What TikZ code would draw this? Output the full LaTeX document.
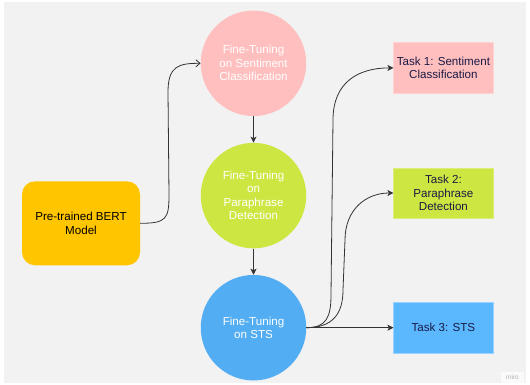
\documentclass[tikz,border=0pt]{standalone}
\usepackage{fontspec}
\setmainfont{Liberation Sans}
\usetikzlibrary{arrows.meta,calc}
\definecolor{bg}{HTML}{F2F2F2}
\definecolor{cpink}{HTML}{FFBFBF}
\definecolor{cgreen}{HTML}{CEE641}
\definecolor{cblue}{HTML}{52ADF2}
\definecolor{tblue}{HTML}{5BB8FF}
\definecolor{cyellow}{HTML}{FFC600}
\definecolor{navy}{HTML}{1A1A44}
\definecolor{line}{HTML}{333333}
\tikzset{
  circ/.style={circle, minimum size=105.5pt, inner sep=0pt, text=white, align=center,
    font=\fontsize{11.6}{13.5}\selectfont},
  taskbox/.style={rectangle, minimum width=99.5pt, minimum height=50.5pt, inner sep=0pt,
    text=navy, align=center, font=\fontsize{11.6}{13.2}\selectfont},
  conn/.style={draw=line, line width=0.8pt, -{Stealth[length=6pt,width=6pt,inset=1.5pt]}},
  openconn/.style={draw=line, line width=0.8pt, -{Straight Barb[length=4pt,width=7pt]}}
}
\begin{document}
\begin{tikzpicture}[x=1pt,y=-1pt]
\useasboundingbox (0,0) rectangle (530,385);
\fill[white] (0,0) rectangle (530,385);
\fill[bg] (4,2) rectangle (526,383);
% miro mark
\fill[white!60!bg] (501,372) rectangle (524,383);
\node[text=black!30, font=\fontsize{6.5}{7}\selectfont, inner sep=0pt] (miro) at (512.5,377.5) {miro};

\node[circ, fill=cpink] (pink) at (253.5,63.3) {Fine-Tuning\\on Sentiment\\Classification};
\node[circ, fill=cgreen] (green) at (253.5,195.6) {Fine-Tuning\\on\\Paraphrase\\Detection};
\node[circ, fill=cblue] (blue) at (253.5,327.7) {Fine-Tuning\\on STS};

\node[rectangle, rounded corners=13pt, fill=cyellow, minimum width=118pt, minimum height=84pt,
  inner sep=0pt, align=center, text=black, font=\fontsize{11.6}{13.5}\selectfont] (bert) at (81,223.3)
  {Pre-trained BERT\\Model};

\node[taskbox, fill=cpink, draw=cpink!70!white] (t1) at (443.4,67.9) {Task 1: Sentiment\\Classification};
\node[taskbox, fill=cgreen, draw=cgreen!70!white] (t2) at (443.4,193) {Task 2:\\Paraphrase\\Detection};
\node[taskbox, fill=tblue, draw=tblue!60!white] (t3) at (443.4,327.7) {Task 3: STS};

% connectors
\coordinate (b1) at (169,195);
\coordinate (b2) at (168,92);
\draw[openconn] (bert.east) .. controls +(26,0) and +(0,24) .. (b1) -- (b2)
  .. controls +(0,-26) and +(-22,0) .. (pink.west);

\draw[conn] (pink.south) -- (green.north);
\draw[conn] (green.south) -- (blue.north);

\coordinate (c1a) at (331,295);
\coordinate (c1b) at (333,120);
\draw[conn] (blue.east) .. controls +(20,0) and +(0,22) .. (c1a) -- (c1b)
  .. controls +(0,-38) and +(-35,0) .. (t1.west);

\coordinate (c2a) at (343,290);
\coordinate (c2b) at (345,240);
\draw[conn] (blue.east) .. controls +(26,0) and +(0,24) .. (c2a) -- (c2b)
  .. controls +(0,-30) and +(-28,0) .. (t2.west);

\draw[conn] (blue.east) -- (t3.west);
\end{tikzpicture}
\end{document}
